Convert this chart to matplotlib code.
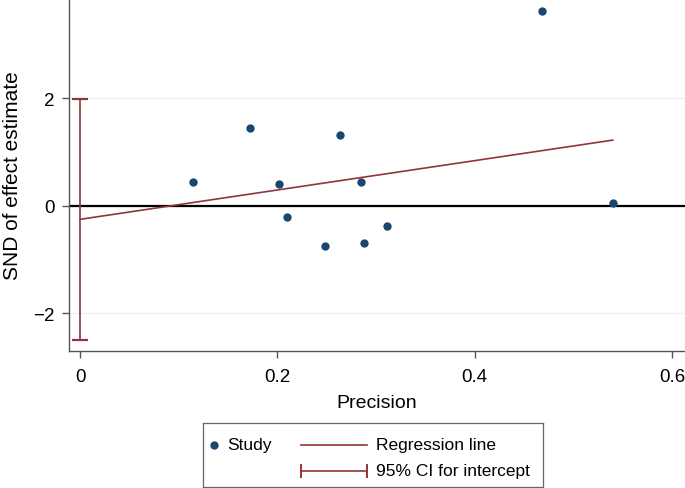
import matplotlib
matplotlib.use("Agg")
import matplotlib.pyplot as plt
import numpy as np

plt.rcParams['font.family'] = ['Liberation Sans', 'DejaVu Sans']

# Data
precision = [0.115, 0.172, 0.202, 0.210, 0.248, 0.264, 0.285, 0.288, 0.311, 0.468, 0.540]
snd = [0.454, 1.445, 0.416, -0.205, -0.744, 1.315, 0.441, -0.688, -0.365, 3.635, 0.063]
reg_intercept = -0.25
reg_slope = 2.73
ci_low, ci_high = -2.50, 1.98
xticks = [0, 0.2, 0.4, 0.6]
xticklabels = ["0", "0.2", "0.4", "0.6"]
yticks = [-2, 0, 2]
yticklabels = ["\u22122", "0", "2"]

navy = "#1a476f"
maroon = "#90353b"
spine_c = "#555555"

W, H = 685, 489
fig = plt.figure(figsize=(W / 100, H / 100), dpi=100)

ax_l, ax_r, ax_t, ax_b = 68.5, 685, 0, 352
ax = fig.add_axes([ax_l / W, 1 - ax_b / H, (ax_r - ax_l) / W, (ax_b - ax_t) / H])

ax.set_xlim(-0.0117, 0.6132)
ax.set_ylim(-2.70, 3.85)

for yv in yticks:
    ax.axhline(yv, color="#eaf2f3", lw=1.0, zorder=0)
ax.axhline(0, color="black", lw=1.6, zorder=1)

xs = np.array([0, max(precision)])
ax.plot(xs, reg_intercept + reg_slope * xs, color=maroon, lw=1.2, zorder=2)

ax.errorbar([0], [(ci_low + ci_high) / 2], yerr=[[(ci_high - ci_low) / 2], [(ci_high - ci_low) / 2]],
            fmt='none', ecolor=maroon, elinewidth=1.2, capsize=5.5, capthick=1.6, zorder=2)

ax.scatter(precision, snd, s=36, color=navy, zorder=3, linewidths=0)

ax.spines['top'].set_visible(False)
ax.spines['right'].set_visible(False)
for s in ['left', 'bottom']:
    ax.spines[s].set_color(spine_c)
    ax.spines[s].set_linewidth(1.0)

ax.set_xticks(xticks)
ax.set_xticklabels(xticklabels)
ax.set_yticks(yticks)
ax.set_yticklabels(yticklabels)
ax.tick_params(axis='both', direction='out', length=5, width=1.0, color=spine_c,
               labelsize=13.5, labelcolor="black")
ax.tick_params(axis='x', pad=7)
ax.tick_params(axis='y', pad=5)

ax.set_xlabel("Precision", fontsize=14, labelpad=7)
ax.set_ylabel("SND of effect estimate", fontsize=15, labelpad=8)

# Legend box drawn in pixel coordinates
lx0, lx1, ly0, ly1 = 203, 543, 424, 488
lax = fig.add_axes([lx0 / W, 1 - ly1 / H, (lx1 - lx0) / W, (ly1 - ly0) / H])
lax.set_xlim(lx0, lx1)
lax.set_ylim(ly1, ly0)
lax.set_xticks([])
lax.set_yticks([])
for s in lax.spines.values():
    s.set_color("#666666")
    s.set_linewidth(0.9)
r1, r2 = 445.5, 471.5
lax.scatter([214], [r1], s=36, color=navy, linewidths=0)
lax.text(227, r1, "Study", fontsize=12.5, va='center', ha='left')
lax.plot([301, 367], [r1, r1], color=maroon, lw=1.2)
lax.text(376, r1, "Regression line", fontsize=12.5, va='center', ha='left')
lax.plot([301, 367], [r2, r2], color=maroon, lw=1.2)
lax.plot([301, 301], [r2 - 6, r2 + 6], color=maroon, lw=1.4)
lax.plot([367, 367], [r2 - 6, r2 + 6], color=maroon, lw=1.4)
lax.text(376, r2, "95% CI for intercept", fontsize=12.5, va='center', ha='left')

fig.savefig("out.png", dpi=100)
